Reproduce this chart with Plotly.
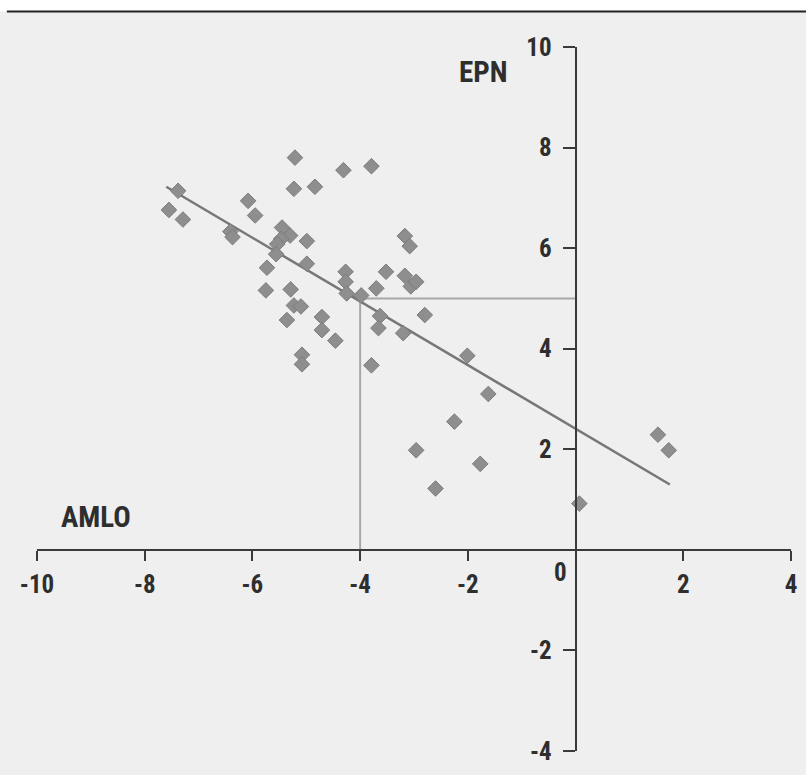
import plotly.graph_objects as go

# Data points (AMLO axis x, EPN axis y)
pts_x = [-5.21, -4.31, -3.79, -5.23, -4.84, -7.38, -7.55, -7.29, -6.08, -5.95,
         -6.41, -6.37, -5.45, -5.30, -5.47, -5.54, -4.99, -5.56, -4.99, -5.73,
         -4.27, -4.27, -4.25, -3.98, -3.52, -3.70, -3.17, -3.08, -3.17, -3.06,
         -2.96, -5.75, -5.29, -5.23, -5.10, -5.36, -4.71, -4.71, -4.46, -5.08,
         -5.08, -3.79, -3.63, -3.66, -3.20, -2.80, -2.01, -1.62, -2.25, -2.96,
         -1.77, -2.60, 0.07, 1.53, 1.73]
pts_y = [7.80, 7.55, 7.63, 7.18, 7.22, 7.14, 6.76, 6.57, 6.94, 6.65,
         6.33, 6.22, 6.41, 6.25, 6.18, 6.08, 6.14, 5.88, 5.69, 5.61,
         5.53, 5.33, 5.10, 5.06, 5.53, 5.20, 6.24, 6.04, 5.45, 5.24,
         5.33, 5.16, 5.18, 4.86, 4.84, 4.57, 4.63, 4.37, 4.16, 3.88,
         3.69, 3.67, 4.65, 4.41, 4.31, 4.67, 3.86, 3.10, 2.55, 1.98,
         1.71, 1.22, 0.92, 2.29, 1.98]

# Trend line endpoints
trend_x = [-7.6, 1.75]
trend_y = [7.22, 1.30]

# Reference guide at (-4, 5)
ref_x = [-4, -4, 0]
ref_y = [0, 5, 5]

x_ticks = [-10, -8, -6, -4, -2, 2, 4]
y_ticks = [-4, -2, 2, 4, 6, 8, 10]

FONT = "Liberation Sans Narrow, Roboto Condensed, Arial Narrow, Liberation Sans, sans-serif"
AXC = "#3a3a3a"
TXT = "#2e2e2e"
TICKFONT = dict(size=25, family=FONT, color=TXT, weight="bold")

fig = go.Figure()
fig.add_trace(go.Scatter(x=ref_x, y=ref_y, mode="lines",
                         line=dict(color="#a8a8a8", width=2), hoverinfo="skip"))
fig.add_trace(go.Scatter(x=trend_x, y=trend_y, mode="lines",
                         line=dict(color="#777777", width=2.5), hoverinfo="skip"))
fig.add_trace(go.Scatter(x=pts_x, y=pts_y, mode="markers",
                         marker=dict(symbol="diamond", size=12, color="#8e8e8e",
                                     line=dict(color="#7c7c7c", width=1))))

fig.update_layout(
    width=806, height=775,
    margin=dict(l=37, r=9, t=47, b=15),
    paper_bgcolor="#efefef", plot_bgcolor="#efefef",
    showlegend=False,
    font=dict(family=FONT, color=TXT, size=22),
    xaxis=dict(range=[-10, 4], anchor="free", position=4/14,
               showgrid=False, zeroline=False, showline=True, linecolor=AXC, linewidth=2,
               ticks="outside", ticklen=10, tickwidth=2, tickcolor=AXC,
               tickvals=x_ticks, ticktext=[str(v) for v in x_ticks],
               tickfont=TICKFONT, ticklabelstandoff=2, ticklabeloverflow="allow"),
    yaxis=dict(range=[-4, 10], anchor="free", position=10/14,
               showgrid=False, zeroline=False, showline=True, linecolor=AXC, linewidth=2,
               ticks="outside", ticklen=12, tickwidth=2, tickcolor=AXC,
               tickvals=y_ticks, ticktext=[str(v) for v in y_ticks],
               tickfont=TICKFONT, ticklabelstandoff=6, ticklabeloverflow="allow"),
    shapes=[
        dict(type="rect", xref="paper", yref="paper", x0=-0.1, x1=1.1,
             y0=1.0505, y1=1.2, fillcolor="#ffffff", line=dict(width=0), layer="below"),
        dict(type="line", xref="paper", yref="paper", x0=-0.04, x1=1.02,
             y0=1.0505, y1=1.0505, line=dict(color="#222222", width=2)),
    ],
    annotations=[
        dict(x=0, y=0, xref="x", yref="y", text="0", showarrow=False,
             xshift=-15, yshift=-23, font=TICKFONT),
        dict(x=-1.71, y=9.5, xref="x", yref="y", text="EPN", showarrow=False,
             font=dict(size=29, family=FONT, color=TXT, weight="bold")),
        dict(x=-8.91, y=0.65, xref="x", yref="y", text="AMLO", showarrow=False,
             font=dict(size=29, family=FONT, color=TXT, weight="bold")),
    ],
)

fig.write_html("out.html")
